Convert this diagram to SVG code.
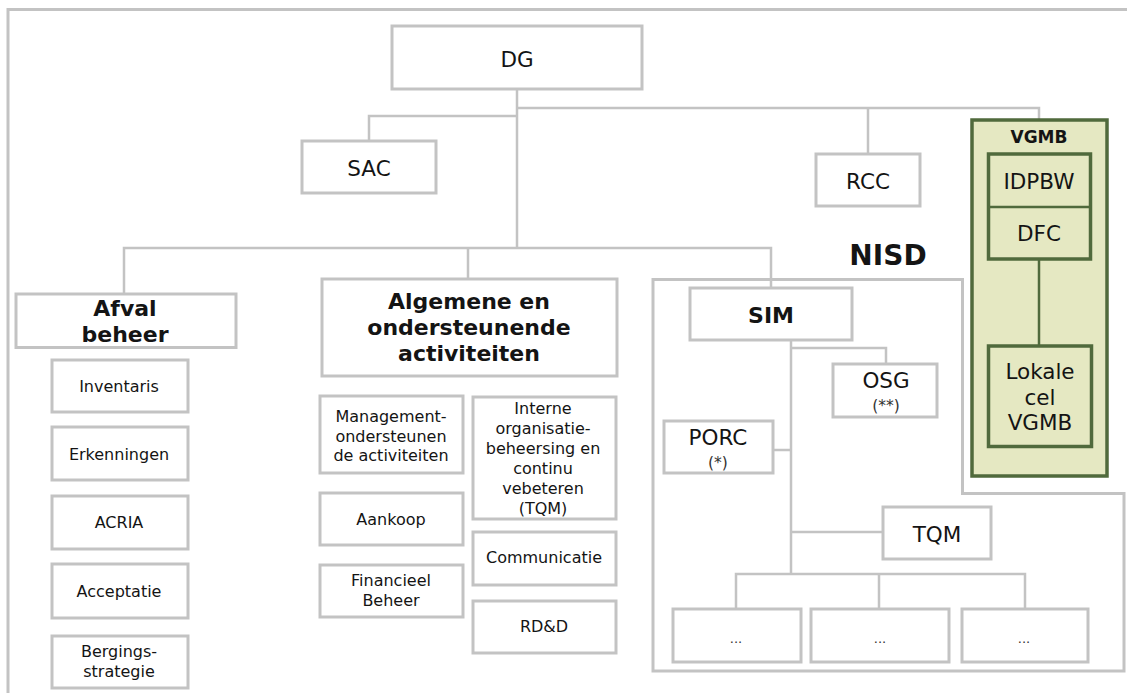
<svg xmlns="http://www.w3.org/2000/svg" width="1127" height="693" viewBox="0 0 1127 693">
<style>
.box{fill:#fff;stroke:#c3c3c3;stroke-width:3}
.frame{fill:none;stroke:#c3c3c3;stroke-width:3}
.conn{fill:none;stroke:#c3c3c3;stroke-width:2.5}
.gbox{fill:#e5e8c2;stroke:#506a3c;stroke-width:3.5}
.gline{fill:none;stroke:#506a3c;stroke-width:2.5}
text{font-family:"DejaVu Sans","Liberation Sans",sans-serif;fill:#141414;text-anchor:middle}
.m{font-size:21.5px}
.s{font-size:16px}
.b{font-size:22px;font-weight:bold}
.n{font-size:28px;font-weight:bold}
.v{font-size:17px;font-weight:bold}
.a{font-size:15.5px;fill:#333}
.d{font-size:13px;fill:#333}
</style>
<rect width="1127" height="693" fill="#fff"/>
<path class="frame" d="M8,693 V9.5 H1127"/>
<g id="nisd-frame"><path class="frame" d="M653,279.5 H962.5 V493.5 H1124 V671 H653 Z"/><text class="n" x="888" y="265">NISD</text></g>
<g id="connectors">
<path class="conn" d="M517,89 V248"/>
<path class="conn" d="M517,116 H369 V141"/>
<path class="conn" d="M517,108 H1039 V120"/>
<path class="conn" d="M868,108 V154"/>
<path class="conn" d="M124,294 V248 H771 V288"/>
<path class="conn" d="M468,248 V279"/>
<path class="conn" d="M791,340 V574"/>
<path class="conn" d="M791,348 H886 V364"/>
<path class="conn" d="M773,450 H791"/>
<path class="conn" d="M791,532 H883"/>
<path class="conn" d="M736,609 V574 H1025 V609"/>
<path class="conn" d="M879,574 V609"/>
</g>
<g id="DG"><rect class="box" x="392" y="26" width="250" height="63"/><text class="m" x="517" y="67">DG</text></g>
<g id="SAC"><rect class="box" x="302" y="141" width="134" height="52"/><text class="m" x="369" y="176">SAC</text></g>
<g id="RCC"><rect class="box" x="816" y="154" width="104" height="52"/><text class="m" x="868" y="189">RCC</text></g>
<g id="VGMB">
<rect class="gbox" x="972" y="120" width="135" height="356"/>
<text class="v" x="1039" y="143">VGMB</text>
<rect class="gbox" x="988.5" y="154" width="102" height="105"/>
<path class="gline" d="M988.5,207 H1090.5"/>
<text class="m" x="1039" y="189">IDPBW</text>
<text class="m" x="1039" y="241">DFC</text>
<path class="gline" d="M1039,259 V346"/>
<rect class="gbox" x="988.5" y="346" width="103" height="100.5"/>
<text class="m" x="1040" y="379">Lokale</text>
<text class="m" x="1040" y="405">cel</text>
<text class="m" x="1040" y="430">VGMB</text>
</g>
<g id="Afval"><rect class="box" x="16" y="294" width="220" height="53.5"/><text class="b" x="125" y="316">Afval</text><text class="b" x="125" y="341.5">beheer</text></g>
<g id="Inventaris"><rect class="box" x="52" y="360" width="136" height="52"/><text class="s" x="119" y="392">Inventaris</text></g>
<g id="Erkenningen"><rect class="box" x="52" y="427" width="136" height="53"/><text class="s" x="119" y="460">Erkenningen</text></g>
<g id="ACRIA"><rect class="box" x="52" y="496" width="136" height="53"/><text class="s" x="119" y="528">ACRIA</text></g>
<g id="Acceptatie"><rect class="box" x="52" y="564" width="136" height="54"/><text class="s" x="119" y="597">Acceptatie</text></g>
<g id="Bergingsstrategie"><rect class="box" x="52" y="636" width="136" height="52"/><text class="s" x="119" y="657">Bergings-</text><text class="s" x="119" y="677">strategie</text></g>
<g id="Algemene"><rect class="box" x="322" y="279" width="295" height="97"/><text class="b" x="469" y="309">Algemene en</text><text class="b" x="469" y="335">ondersteunende</text><text class="b" x="469" y="361">activiteiten</text></g>
<g id="Management"><rect class="box" x="320" y="396" width="143" height="77"/><text class="s" x="391" y="422">Management-</text><text class="s" x="391" y="442">ondersteunen</text><text class="s" x="391" y="461">de activiteiten</text></g>
<g id="Aankoop"><rect class="box" x="320" y="493" width="143" height="52"/><text class="s" x="391" y="525">Aankoop</text></g>
<g id="Financieel"><rect class="box" x="320" y="565" width="143" height="52"/><text class="s" x="391" y="586">Financieel</text><text class="s" x="391" y="606">Beheer</text></g>
<g id="Interne"><rect class="box" x="473" y="397" width="143" height="122"/><text class="s" x="543" y="414">Interne</text><text class="s" x="543" y="434">organisatie-</text><text class="s" x="543" y="454">beheersing en</text><text class="s" x="543" y="474">continu</text><text class="s" x="543" y="494">vebeteren</text><text class="s" x="543" y="514">(TQM)</text></g>
<g id="Communicatie"><rect class="box" x="473" y="532" width="143" height="53"/><text class="s" x="544" y="563">Communicatie</text></g>
<g id="RDD"><rect class="box" x="473" y="601" width="143" height="52"/><text class="s" x="544" y="632">RD&amp;D</text></g>
<g id="SIM"><rect class="box" x="690" y="288" width="162" height="52"/><text class="b" x="771" y="323">SIM</text></g>
<g id="OSG"><rect class="box" x="833" y="364" width="104" height="53"/><text class="m" x="886" y="388">OSG</text><text class="a" x="886" y="411">(**)</text></g>
<g id="PORC"><rect class="box" x="664" y="421" width="109" height="52"/><text class="m" x="718" y="445">PORC</text><text class="a" x="718" y="468">(*)</text></g>
<g id="TQM"><rect class="box" x="883" y="507" width="108" height="52"/><text class="m" x="937" y="542">TQM</text></g>
<g id="dots1"><rect class="box" x="673" y="609" width="128" height="53"/><text class="d" x="736" y="643">...</text></g>
<g id="dots2"><rect class="box" x="811" y="609" width="138" height="53"/><text class="d" x="880" y="643">...</text></g>
<g id="dots3"><rect class="box" x="962" y="609" width="126" height="53"/><text class="d" x="1024" y="643">...</text></g>
</svg>
